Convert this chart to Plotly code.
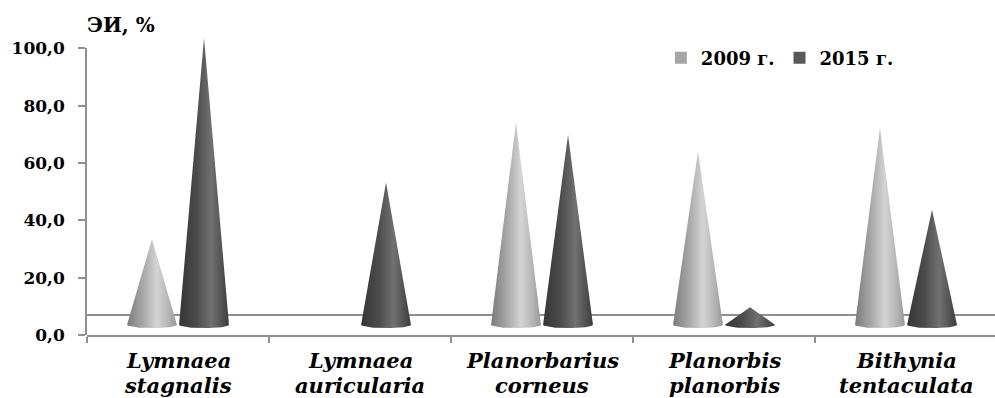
import numpy as np
import plotly.graph_objects as go

# Species names (genus / species epithet) and extensive index values, %
genus = ["Lymnaea", "Lymnaea", "Planorbarius", "Planorbis", "Bithynia"]
species = ["stagnalis", "auricularia", "corneus", "planorbis", "tentaculata"]
series_names = ["2009 г.", "2015 г."]
values_2009 = [29.8, 0.0, 70.5, 60.4, 68.6]
values_2015 = [100.0, 49.6, 66.2, 6.1, 40.1]
y_tick_values = [0, 20, 40, 60, 80, 100]
y_tick_labels = ["0,0", "20,0", "40,0", "60,0", "80,0", "100,0"]

# Styling of the pseudo-3D cones
series_values = [values_2009, values_2015]
legend_colors = ["#a6a6a6", "#595959"]
cone_gradients = [
    [[0.0, "#7c7c7c"], [0.3, "#a4a4a4"], [0.6, "#d4d4d4"], [0.85, "#b2b2b2"], [1.0, "#989898"]],
    [[0.0, "#353535"], [0.35, "#4c4c4c"], [0.65, "#717171"], [0.85, "#535353"], [1.0, "#3c3c3c"]],
]
series_offset = [-0.143, 0.143]   # position of each series inside a category
half_width = 0.137                # cone base half-width, category units
base_level = 3.6                  # floor depth shift of the cone bases
ellipse_h = 1.2                   # half-height of the base ellipse
floor_back = 7.0                  # back edge of the floor
Y_TOP = 106

AXIS_COL = "#8f8f8f"
TICK_FONT = dict(family="DejaVu Serif", size=17, color="#000000")
CAT_FONT = dict(family="DejaVu Serif", size=21, color="#000000")


def cone_outline(xc, value):
    """Closed outline of a cone: apex, sides and the lower half of the base ellipse."""
    t = np.linspace(0, np.pi, 40)
    arc_x = xc + half_width * np.cos(t)
    arc_y = base_level - ellipse_h * np.sin(t)
    xs = [xc - half_width, xc, xc + half_width] + list(arc_x)
    ys = [base_level, base_level + value, base_level] + list(arc_y)
    return xs, ys


fig = go.Figure()

for s, vals in enumerate(series_values):
    for i, v in enumerate(vals):
        if v <= 0:
            continue
        xs, ys = cone_outline(i + 0.5 + series_offset[s], v)
        fig.add_trace(go.Scatter(
            x=xs, y=ys, mode="lines", fill="toself",
            fillgradient=dict(type="horizontal", colorscale=cone_gradients[s]),
            line=dict(width=0, color="rgba(0,0,0,0)"),
            showlegend=False, hoverinfo="skip",
            xaxis="x", yaxis="y",
        ))

# Legend entries (square swatches)
for s, name in enumerate(series_names):
    fig.add_trace(go.Scatter(
        x=[None], y=[None], mode="markers", name=f"<b>{name}</b>",
        marker=dict(symbol="square", size=12, color=legend_colors[s]),
        xaxis="x", yaxis="y",
    ))

# Invisible trace that creates the value-axis subplot
fig.add_trace(go.Scatter(x=[None], y=[None], xaxis="x", yaxis="y2",
                         showlegend=False, hoverinfo="skip"))

n_cat = len(genus)

# Two-line category labels under each category
annotations = []
for i in range(n_cat):
    for text, shift in ((genus[i], -25), (species[i], -50)):
        annotations.append(dict(
            text=f"<b><i>{text}</i></b>",
            xref="x", yref="paper", x=i + 0.5, y=0,
            xanchor="center", yanchor="middle", yshift=shift,
            borderpad=0, showarrow=False, font=CAT_FONT,
        ))

annotations.append(dict(
    text="<b>ЭИ, %</b>",
    xref="paper", yref="paper",
    x=0, y=1.0197, xanchor="left", yanchor="middle", xshift=-2,
    showarrow=False,
    font=dict(family="DejaVu Serif", size=20, color="#000000"),
))

fig.update_layout(
    width=995, height=398,
    margin=dict(l=87, r=0, t=31, b=63, autoexpand=False),
    paper_bgcolor="white",
    plot_bgcolor="rgba(0,0,0,0)",
    xaxis=dict(
        domain=[0, 1], anchor="y", automargin=False,
        range=[0, 908 / 182],
        tickmode="array",
        tickvals=[i + 0.5 for i in range(n_cat)],
        showticklabels=False,
        ticks="",
        showline=True, linecolor=AXIS_COL, linewidth=1.5,
        showgrid=False, zeroline=False,
        minor=dict(tickmode="array", tickvals=list(range(n_cat)),
                   ticks="outside", ticklen=6, tickcolor=AXIS_COL, tickwidth=1.5,
                   showgrid=False),
    ),
    yaxis=dict(
        domain=[0, 1], anchor="x", automargin=False,
        range=[0, Y_TOP],
        tickmode="array", tickvals=[floor_back],
        showticklabels=False, ticks="",
        showgrid=True, gridcolor=AXIS_COL, gridwidth=1.5,
        showline=False, zeroline=False,
    ),
    yaxis2=dict(
        domain=[0, 100 / Y_TOP], anchor="x", automargin=False,
        range=[0, 100],
        tickmode="array", tickvals=y_tick_values,
        ticktext=[f"<b>{t}</b>" for t in y_tick_labels],
        tickfont=TICK_FONT,
        ticks="outside", ticklen=7, tickcolor=AXIS_COL, tickwidth=1.5,
        ticklabelstandoff=10,
        showline=True, linecolor=AXIS_COL, linewidth=1.5,
        showgrid=False, zeroline=False,
    ),
    legend=dict(
        orientation="h",
        x=0.632, xanchor="left",
        y=0.911, yanchor="middle",
        font=dict(family="DejaVu Serif", size=18, color="#000000"),
        bgcolor="rgba(0,0,0,0)",
        itemclick=False,
    ),
    annotations=annotations,
)

fig.write_html("out.html")
